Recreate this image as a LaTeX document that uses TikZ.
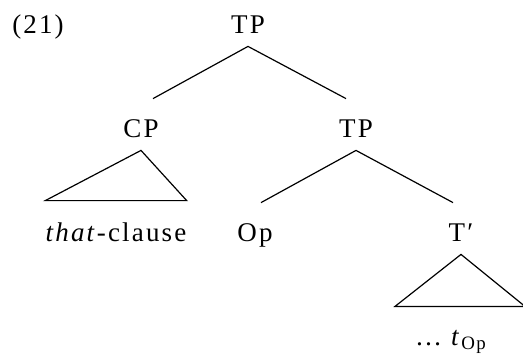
\documentclass[tikz,border=0pt]{standalone}
\usepackage{fontspec}
\setmainfont{Liberation Serif}[LetterSpace=8]
\usepackage{tikz}

\begin{document}
\begin{tikzpicture}[
  x=0.5pt, y=-0.5pt,
  every node/.style={font=\fontsize{13.5}{16}\selectfont},
  cat/.style={anchor=base, inner xsep=0pt, inner ysep=6.5pt,
    text height=12.5pt, text depth=0pt},
  leaf/.style={anchor=base, inner sep=0pt, text height=20pt, text depth=0pt},
  branch/.style={line width=0.6pt}
]
  \useasboundingbox (0,0) rectangle (523,354);

  % example number
  \node[anchor=base] (exno) at (38,33) {(21)};

  % categories
  \node[cat] (tp) at (248,33) {TP};
  \node[cat] (cp) at (141,137) {CP};
  \node[cat] (tplow) at (356,137) {TP};
  \node[cat] (op) at (255,241) {Op};
  \node[cat] (tbar) at (461,241) {T′};

  % leaves under triangles
  \node[leaf] (clause) at (116,241) {\textit{that}-clause};
  \node[leaf] (trace) at (451,345) {… \textit{t}\textsubscript{Op}};

  % branches (ends pulled a little towards the mother)
  \draw[branch] (tp.south) -- ([xshift=6pt]cp.north);
  \draw[branch] (tp.south) -- ([xshift=-5pt]tplow.north);
  \draw[branch] (tplow.south) -- ([xshift=3pt]op.north);
  \draw[branch] (tplow.south) -- ([xshift=-4pt]tbar.north);

  % triangles
  \draw[branch] (cp.south) -- (clause.north west) -- (clause.north east) -- cycle;
  \draw[branch] (tbar.south) -- ++(-66,52) -- ++(130,0) -- cycle;
\end{tikzpicture}
\end{document}
